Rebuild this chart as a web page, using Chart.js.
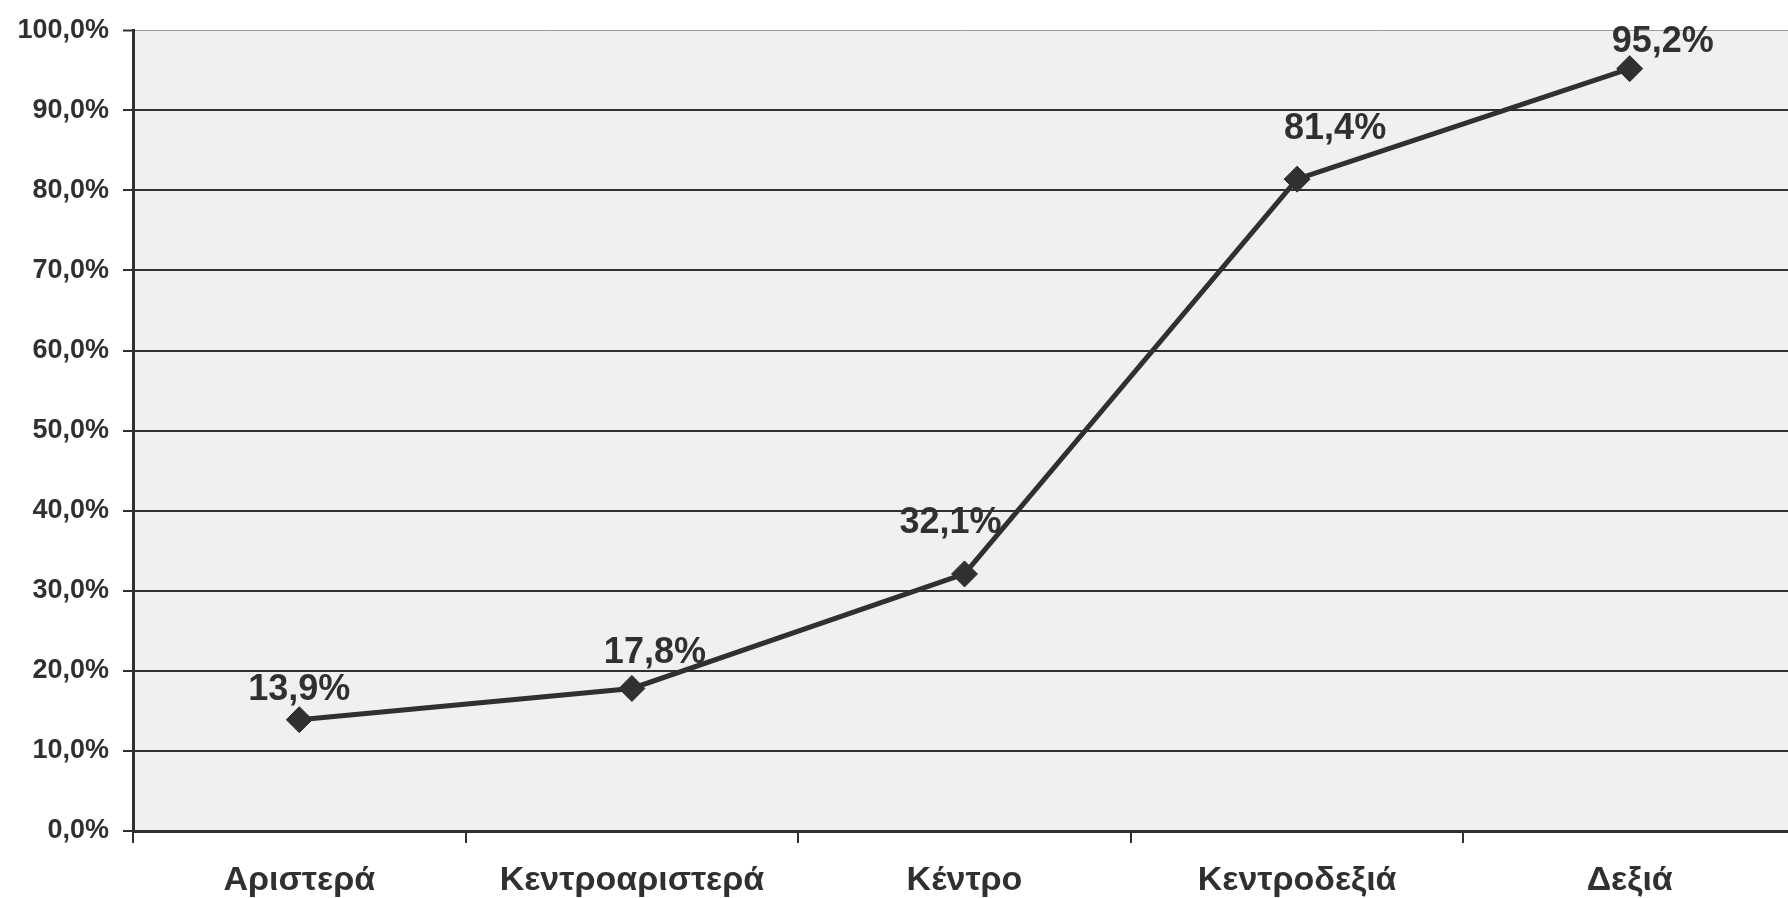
<!DOCTYPE html>
<html>
<head>
<meta charset="utf-8">
<script src="https://cdn.jsdelivr.net/npm/chart.js@4/dist/chart.umd.min.js"></script>
<style>
  html, body { margin: 0; padding: 0; background: #fff; overflow: hidden; }
  #wrap { width: 1810px; height: 898px; }
</style>
</head>
<body>
<div id="wrap"><canvas id="chart" width="1810" height="898"></canvas></div>
<script>
// data
const categories = ['Αριστερά', 'Κεντροαριστερά', 'Κέντρο', 'Κεντροδεξιά', 'Δεξιά'];
const values = [13.9, 17.8, 32.1, 81.4, 95.2];
const yTicks = [0, 10, 20, 30, 40, 50, 60, 70, 80, 90, 100];

// where the labels sit relative to each point (px)
const labelDx = [0, 23, -14, 38, 33];
const labelDy = [20, 25, 41, 40, 17];

const fmt = v => v.toFixed(1).replace('.', ',') + '%';
const ink = '#303030';

// grey plot background
const plotBg = {
  id: 'plotBg',
  beforeDraw(chart) {
    const a = chart.chartArea, c = chart.ctx;
    c.save();
    c.fillStyle = '#f0f0f0';
    c.fillRect(a.left, a.top, a.right - a.left, a.bottom - a.top);
    c.restore();
  }
};

// value labels above the points
const valueLabels = {
  id: 'valueLabels',
  afterDatasetsDraw(chart) {
    const c = chart.ctx;
    const pts = chart.getDatasetMeta(0).data;
    c.save();
    c.font = 'bold 36px "Liberation Sans", Arial, sans-serif';
    c.fillStyle = ink;
    c.textAlign = 'center';
    c.textBaseline = 'alphabetic';
    pts.forEach((p, i) => {
      c.fillText(fmt(values[i]), p.x + labelDx[i], p.y - labelDy[i]);
    });
    c.restore();
  }
};

new Chart(document.getElementById('chart'), {
  type: 'line',
  data: {
    labels: categories,
    datasets: [{
      data: values,
      borderColor: ink,
      borderWidth: 5,
      backgroundColor: ink,
      pointStyle: 'rectRot',
      pointRadius: 13,
      pointBackgroundColor: ink,
      pointBorderColor: ink,
      pointBorderWidth: 1,
      tension: 0
    }]
  },
  options: {
    responsive: false,
    animation: false,
    layout: { padding: { top: 24, right: 0, left: 0, bottom: 0 } },
    plugins: {
      legend: { display: false },
      tooltip: { enabled: false }
    },
    scales: {
      x: {
        type: 'category',
        offset: true,
        afterFit: s => { s.height = 67; },
        grid: {
          offset: true,
          drawOnChartArea: false,
          drawTicks: true,
          tickLength: 12,
          color: ink,
          lineWidth: 2
        },
        border: { display: true, color: ink, width: 3 },
        ticks: {
          color: ink,
          padding: 17,
          maxRotation: 0,
          autoSkip: false,
          font: { family: '"Liberation Sans", Arial, sans-serif', size: 34, weight: 'bold' }
        }
      },
      y: {
        min: 0,
        max: 100,
        afterFit: s => { s.width = 133; },
        afterBuildTicks: s => { s.ticks = yTicks.map(v => ({ value: v })); },
        grid: {
          color: ctx => (ctx.tick && ctx.tick.value === 100) ? '#9a9a9a' : ink,
          lineWidth: ctx => (ctx.tick && ctx.tick.value === 100) ? 1 : 2,
          tickColor: ink,
          tickLength: 10,
          tickWidth: 2
        },
        border: { display: true, color: ink, width: 3 },
        ticks: {
          color: ink,
          padding: 14,
          callback: v => fmt(v),
          font: { family: '"Liberation Sans", Arial, sans-serif', size: 27, weight: 'bold' }
        }
      }
    }
  },
  plugins: [plotBg, valueLabels]
});
</script>
</body>
</html>
